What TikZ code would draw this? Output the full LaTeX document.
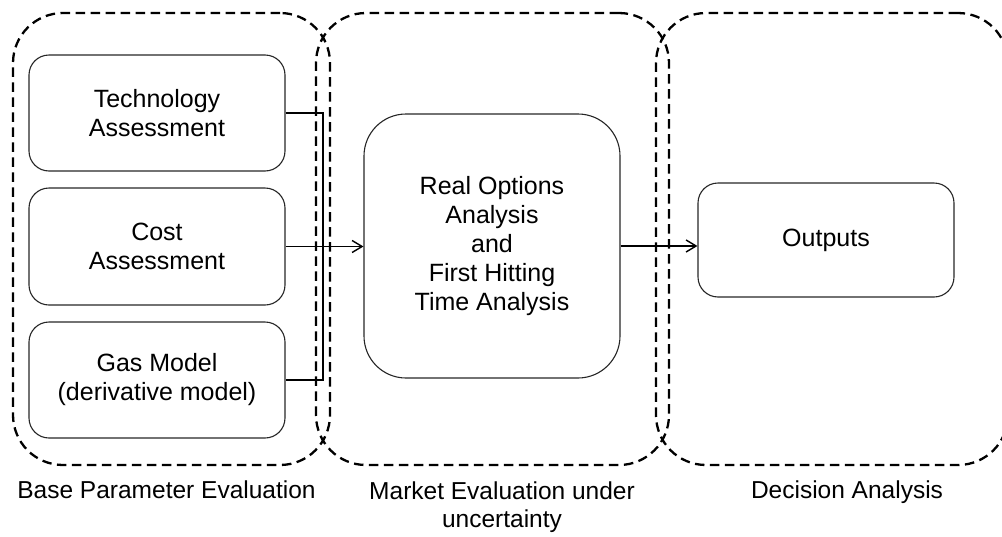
\documentclass[tikz,border=0pt]{standalone}
\usepackage{fontspec}
\setmainfont{Liberation Sans}
\usetikzlibrary{arrows.meta}

\tikzset{
  groupbox/.style={draw=black, line width=2.3pt, dash pattern=on 9.5pt off 5.5pt,
    rounded corners=50pt, minimum width=#1, minimum height=452pt, inner sep=0pt},
  stepbox/.style={draw=black!85, line width=1.1pt, rounded corners=20pt,
    minimum width=256pt, minimum height=#1, inner sep=0pt, align=center,
    font=\fontsize{25}{29}\selectfont},
  caption/.style={align=center, inner sep=0pt, font=\fontsize{24.5}{28}\selectfont},
  link/.style={draw=black, line width=1.4pt},
  flow/.style={link, -{Straight Barb[length=10pt, width=12pt, line width=1.4pt]}}
}

\begin{document}
\begin{tikzpicture}[x=1pt, y=-1pt]
  \clip (0,0) rectangle (1002,536);

  % evaluation stages
  \node[groupbox=317pt] (stageA) at (171.5,239) {};
  \node[groupbox=353pt] (stageB) at (492.5,239) {};
  \node[groupbox=352pt] (stageC) at (832,239) {};

  % inputs
  \node[stepbox=116pt] (tech) at (157,113) {Technology\\Assessment};
  \node[stepbox=117pt] (cost) at (157,246.5) {Cost\\Assessment};
  \node[stepbox=116pt] (gas)  at (157,380) {Gas Model\\(derivative model)};

  % analysis and outputs
  \node[stepbox=264pt, rounded corners=42pt] (roa) at (492,246)
    {Real Options\\Analysis\\and\\First Hitting\\Time Analysis};
  \node[stepbox=114pt] (out) at (826,240) {Outputs};

  % connectors
  \coordinate (joint) at (323,0);
  \draw[link] (tech.east) -- (tech.east -| joint) -- (gas.east -| joint) -- (gas.east);
  \draw[flow] (cost.east) -- (cost.east -| roa.west);
  \draw[flow] (roa.east) -- (roa.east -| out.west);

  % stage captions (base anchor sits on the last line)
  \node[caption, anchor=base] (capA) at (166.5,498) {Base Parameter Evaluation};
  \node[caption, anchor=base] (capB) at (502,527) {Market Evaluation under\\uncertainty};
  \node[caption, anchor=base] (capC) at (847,498) {Decision Analysis};
\end{tikzpicture}
\end{document}
